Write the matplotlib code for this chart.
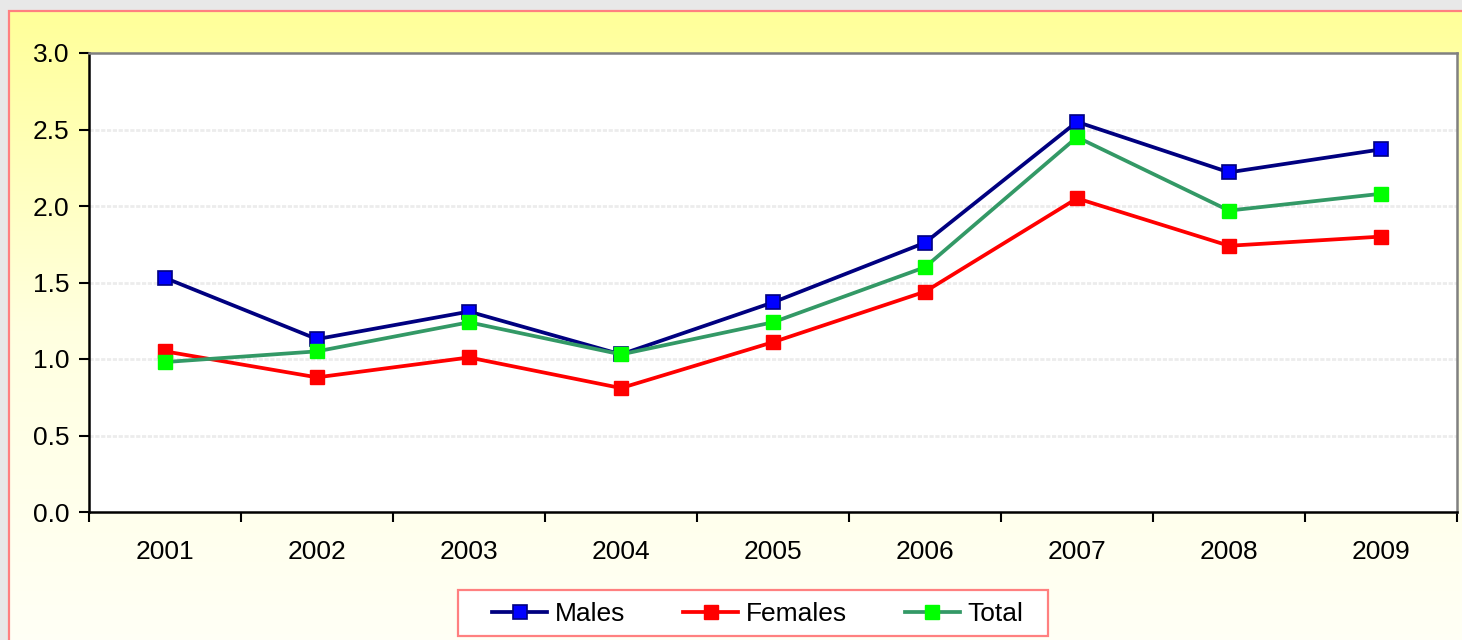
import numpy as np
import matplotlib
matplotlib.use("Agg")
import matplotlib.pyplot as plt
from matplotlib.patches import Rectangle
from matplotlib.colors import LinearSegmentedColormap

years = ["2001", "2002", "2003", "2004", "2005", "2006", "2007", "2008", "2009"]
males = [1.53, 1.13, 1.31, 1.03, 1.37, 1.76, 2.55, 2.22, 2.37]
females = [1.05, 0.88, 1.01, 0.81, 1.11, 1.44, 2.05, 1.74, 1.80]
total = [0.98, 1.05, 1.24, 1.03, 1.24, 1.60, 2.45, 1.97, 2.08]
yticks = [0.0, 0.5, 1.0, 1.5, 2.0, 2.5, 3.0]

plt.rcParams['font.family'] = ['Liberation Sans', 'DejaVu Sans']

W, H = 1462, 640
FS = 19
fig = plt.figure(figsize=(W / 100, H / 100), dpi=100, facecolor='#E8E8E8')

# background panel with vertical gradient
bg = fig.add_axes([0, 0, 1, 1], zorder=0)
bg.axis('off')
cmap = LinearSegmentedColormap.from_list('g', ['#FFFFF6', '#FFFFE0', '#FFFF99'])
grad = np.linspace(0, 1, 256).reshape(-1, 1)
bg.imshow(grad, extent=[8, W + 10, -10, 630], origin='lower', cmap=cmap,
          aspect='auto', interpolation='bilinear')
bg.add_patch(Rectangle((8.5, -10), W + 20, 639.5, fill=False, edgecolor='#FF8080', lw=1.6))
# legend box
bg.add_patch(Rectangle((457.5, H - 636), 590, 46, facecolor='white', edgecolor='#FF8080', lw=1.6,
                       zorder=3))
bg.set_xlim(0, W)
bg.set_ylim(0, H)

ax = fig.add_axes([89 / W, (H - 512) / H, (1457 - 89) / W, (512 - 53) / H], zorder=1)
ax.set_facecolor('white')
x = np.arange(len(years))

ax.plot(x, males, color='#000080', lw=2.7, marker='s', ms=10.5, mfc='#0000FF', mec='#000080', mew=1.2,
        label='Males', zorder=5)
ax.plot(x, females, color='#FF0000', lw=2.7, marker='s', ms=10.5, mfc='#FF0000', mec='#FF0000', mew=1.0,
        label='Females', zorder=4)
ax.plot(x, total, color='#339966', lw=2.7, marker='s', ms=10.5, mfc='#00FF00', mec='#00FF00', mew=1.0,
        label='Total', zorder=6)

ax.set_xlim(-0.5, len(years) - 0.5)
ax.set_ylim(0, 3)
ax.set_yticks(yticks)
ax.set_yticklabels([f"{v:.1f}" for v in yticks], fontsize=FS)
ax.set_xticks(np.arange(-0.5, len(years), 1.0))
ax.set_xticklabels([])
ax.set_xticks(x, minor=True)
ax.set_xticklabels(years, minor=True, fontsize=FS)
ax.tick_params(axis='x', which='major', length=7, width=1.5, direction='out')
ax.tick_params(axis='x', which='minor', length=0, pad=20)
ax.tick_params(axis='y', length=7, width=1.5, direction='out', pad=7)

for v in yticks[1:-1]:
    ax.axhline(v, color='#ECECEC', lw=2.0, ls=(0, (1.5, 0.6)), zorder=1)

for s in ['left', 'bottom']:
    ax.spines[s].set_color('black')
    ax.spines[s].set_linewidth(1.8)
for s in ['top', 'right']:
    ax.spines[s].set_color('#808080')
    ax.spines[s].set_linewidth(1.8)

leg = fig.legend(loc='center left', bbox_to_anchor=(492 / W, (H - 614) / H), ncol=3, fontsize=FS,
                 frameon=False, handlelength=2.1, columnspacing=2.2, handletextpad=0.27,
                 borderpad=0, borderaxespad=0)
leg.set_zorder(10)

fig.savefig('out.png', dpi=100, facecolor=fig.get_facecolor())
